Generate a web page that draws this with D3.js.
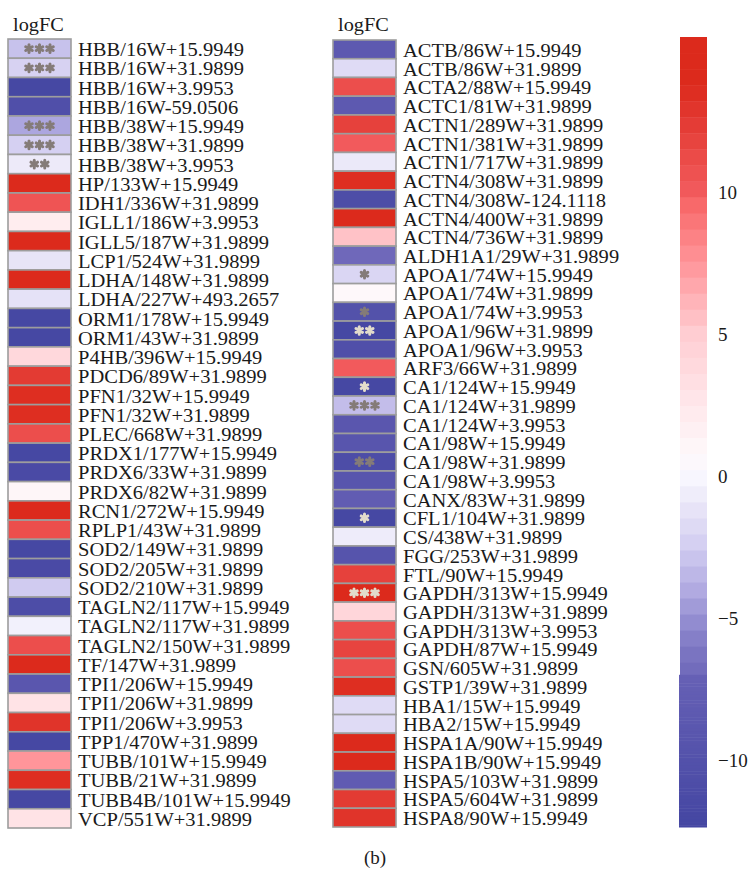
<!DOCTYPE html>
<html>
<head>
<meta charset="utf-8">
<script src="https://cdn.jsdelivr.net/npm/d3@7"></script>
<style>
  html, body { margin: 0; padding: 0; background: #fff; }
  svg { display: block; }
  text { font-family: "Liberation Serif", "Times New Roman", serif; fill: #1a1a1a; }
</style>
</head>
<body>
<svg id="chart" width="749" height="869"></svg>
<script>
// Row labels (protein / site + modification mass) for each panel
const leftLabels = [
  "HBB/16W+15.9949", "HBB/16W+31.9899", "HBB/16W+3.9953", "HBB/16W-59.0506",
  "HBB/38W+15.9949", "HBB/38W+31.9899", "HBB/38W+3.9953", "HP/133W+15.9949",
  "IDH1/336W+31.9899", "IGLL1/186W+3.9953", "IGLL5/187W+31.9899", "LCP1/524W+31.9899",
  "LDHA/148W+31.9899", "LDHA/227W+493.2657", "ORM1/178W+15.9949", "ORM1/43W+31.9899",
  "P4HB/396W+15.9949", "PDCD6/89W+31.9899", "PFN1/32W+15.9949", "PFN1/32W+31.9899",
  "PLEC/668W+31.9899", "PRDX1/177W+15.9949", "PRDX6/33W+31.9899", "PRDX6/82W+31.9899",
  "RCN1/272W+15.9949", "RPLP1/43W+31.9899", "SOD2/149W+31.9899", "SOD2/205W+31.9899",
  "SOD2/210W+31.9899", "TAGLN2/117W+15.9949", "TAGLN2/117W+31.9899", "TAGLN2/150W+31.9899",
  "TF/147W+31.9899", "TPI1/206W+15.9949", "TPI1/206W+31.9899", "TPI1/206W+3.9953",
  "TPP1/470W+31.9899", "TUBB/101W+15.9949", "TUBB/21W+31.9899", "TUBB4B/101W+15.9949",
  "VCP/551W+31.9899"
];
const leftValues = [
  -3.0, -2.2, -12.0, -10.5, -4.2, -2.3, -0.8, 15.0,
  10.5, 2.0, 14.5, -1.2, 15.0, -1.3, -12.0, -12.0,
  4.0, 12.5, 13.5, 13.5, 11.0, -12.0, -11.5, 1.0,
  15.0, 11.0, -12.0, -11.5, -2.6, -11.0, -0.4, 11.0,
  14.0, -9.0, 3.0, 13.0, -12.0, 7.5, 13.5, -12.0,
  3.0
];
// Significance marks (number of asterisks)
const leftStars = [
  3, 3, 0, 0, 3, 3, 2, 0,
  0, 0, 0, 0, 0, 0, 0, 0,
  0, 0, 0, 0, 0, 0, 0, 0,
  0, 0, 0, 0, 0, 0, 0, 0,
  0, 0, 0, 0, 0, 0, 0, 0,
  0
];
const leftStarLight = leftStars.map(() => 0);

const rightLabels = [
  "ACTB/86W+15.9949", "ACTB/86W+31.9899", "ACTA2/88W+15.9949", "ACTC1/81W+31.9899",
  "ACTN1/289W+31.9899", "ACTN1/381W+31.9899", "ACTN1/717W+31.9899", "ACTN4/308W+31.9899",
  "ACTN4/308W-124.1118", "ACTN4/400W+31.9899", "ACTN4/736W+31.9899", "ALDH1A1/29W+31.9899",
  "APOA1/74W+15.9949", "APOA1/74W+31.9899", "APOA1/74W+3.9953", "APOA1/96W+31.9899",
  "APOA1/96W+3.9953", "ARF3/66W+31.9899", "CA1/124W+15.9949", "CA1/124W+31.9899",
  "CA1/124W+3.9953", "CA1/98W+15.9949", "CA1/98W+31.9899", "CA1/98W+3.9953",
  "CANX/83W+31.9899", "CFL1/104W+31.9899", "CS/438W+31.9899", "FGG/253W+31.9899",
  "FTL/90W+15.9949", "GAPDH/313W+15.9949", "GAPDH/313W+31.9899", "GAPDH/313W+3.9953",
  "GAPDH/87W+15.9949", "GSN/605W+31.9899", "GSTP1/39W+31.9899", "HBA1/15W+15.9949",
  "HBA2/15W+15.9949", "HSPA1A/90W+15.9949", "HSPA1B/90W+15.9949", "HSPA5/103W+31.9899",
  "HSPA5/604W+31.9899", "HSPA8/90W+15.9949"
];
const rightValues = [
  -8.5, -1.7, 11.0, -8.5, 12.0, 10.0, -0.9, 13.5,
  -11.0, 14.8, 5.5, -7.0, -2.0, 0.8, -10.0, -12.0,
  -10.5, 10.0, -12.0, -3.2, -9.0, -9.2, -11.0, -9.3,
  -7.8, -12.0, -0.7, -9.5, 12.0, 15.0, 4.2, 11.0,
  11.8, 11.0, 13.5, -1.7, -1.7, 14.8, 14.8, -8.0,
  12.5, 13.0
];
const rightStars = [
  0, 0, 0, 0, 0, 0, 0, 0,
  0, 0, 0, 0, 1, 0, 1, 2,
  0, 0, 1, 3, 0, 0, 2, 0,
  0, 1, 0, 0, 0, 3, 0, 0,
  0, 0, 0, 0, 0, 0, 0, 0,
  0, 0
];
// 1 = pale mark, 0 = grey mark
const rightStarLight = [
  0, 0, 0, 0, 0, 0, 0, 0,
  0, 0, 0, 0, 0, 0, 0, 1,
  0, 0, 1, 0, 0, 0, 0, 0,
  0, 1, 0, 0, 0, 1, 0, 0,
  0, 0, 0, 0, 0, 0, 0, 0,
  0, 0
];

const legendTicks = [10, 5, 0, -5, -10];
const legendRange = [-12.36, 15.46];

// Diverging blue-white-red colour ramp
const color = d3.scaleLinear()
  .domain([-12.36, -7.05, -7.0, -6, -5, -4, -2.5, -1, 0, 0.8, 2.5, 5, 7.5, 9.5, 10, 12, 13.8])
  .range(["#4446a2", "#6660b5", "#6f68ba", "#7f79c4", "#9690d2", "#b2abe2", "#d2cdf1", "#eae7f8",
          "#f8f7fe", "#fef8fa", "#ffe8eb", "#ffcdd2", "#ff959a", "#f86a6b", "#f25a5c", "#e6413c", "#dc2a1c"])
  .clamp(true);

const svg = d3.select("#chart");
const labelSize = 18;
const labelStretch = 1.14;

function drawPanel(x0, top, bottom, labels, values, stars, light) {
  const cellW = 63;
  const y = d3.scaleBand().domain(labels).range([top, bottom]).padding(0);
  const g = svg.append("g");

  g.append("text")
    .attr("transform", `translate(${x0 + 5},31) scale(1.07,1)`)
    .style("font-size", "19px").text("logFC");

  const rows = g.selectAll("g.row").data(labels.map((l, i) => ({ l, v: values[i], s: stars[i], light: light[i] })))
    .join("g").attr("class", "row");

  rows.append("rect")
    .attr("x", x0).attr("y", d => y(d.l))
    .attr("width", cellW).attr("height", y.bandwidth())
    .attr("fill", d => color(d.v))
    .attr("stroke", "#9d9d9d").attr("stroke-width", 1.6);

  rows.append("text")
    .attr("transform", d => `translate(${x0 + cellW + 7},${y(d.l) + y.bandwidth() / 2 + 7.5}) scale(${labelStretch},1)`)
    .style("font-size", labelSize + "px")
    .text(d => d.l);

  const star = d3.symbol(d3.symbolAsterisk, 40)();
  rows.each(function (d) {
    if (!d.s) return;
    const cx = x0 + cellW / 2, cy = y(d.l) + y.bandwidth() / 2;
    const gap = 10.5;
    for (let k = 0; k < d.s; k++) {
      const sx = cx + (k - (d.s - 1) / 2) * gap;
      d3.select(this).append("path")
        .attr("d", star)
        .attr("transform", `translate(${sx},${cy})`)
        .attr("fill", "none")
        .attr("stroke", d.light ? "#e2dccb" : "#847b78")
        .attr("stroke-width", 3)
        .attr("stroke-linecap", "round");
    }
  });
}

drawPanel(8, 39, 828, leftLabels, leftValues, leftStars, leftStarLight);
drawPanel(333, 40, 827, rightLabels, rightValues, rightStars, rightStarLight);

// Colour key
const ly = d3.scaleLinear().domain(legendRange).range([827, 37]);
const key = svg.append("g");
const coarse = d3.range(legendRange[1], -7.0, -0.565);
coarse.forEach(v0 => {
  const v1 = Math.max(v0 - 0.565, -7.0);
  key.append("rect").attr("x", 680).attr("width", 27)
    .attr("y", ly(v0)).attr("height", ly(v1) - ly(v0) + 0.5)
    .attr("fill", color((v0 + v1) / 2));
});
const fine = d3.range(-7.0, legendRange[0], -0.1);
fine.forEach(v0 => {
  const v1 = Math.max(v0 - 0.1, legendRange[0]);
  key.append("rect").attr("x", 679).attr("width", 28)
    .attr("y", ly(v0)).attr("height", ly(v1) - ly(v0) + 0.5)
    .attr("fill", color((v0 + v1) / 2));
});
key.selectAll("text.tick").data(legendTicks).join("text")
  .attr("class", "tick")
  .attr("x", 718).attr("y", d => ly(d))
  .attr("dy", "0.35em")
  .style("font-size", "19px")
  .text(d => d < 0 ? "\u2212" + Math.abs(d) : String(d));

svg.append("text").attr("x", 375).attr("y", 864).attr("text-anchor", "middle")
  .style("font-size", "19px").text("(b)");
</script>
</body>
</html>
